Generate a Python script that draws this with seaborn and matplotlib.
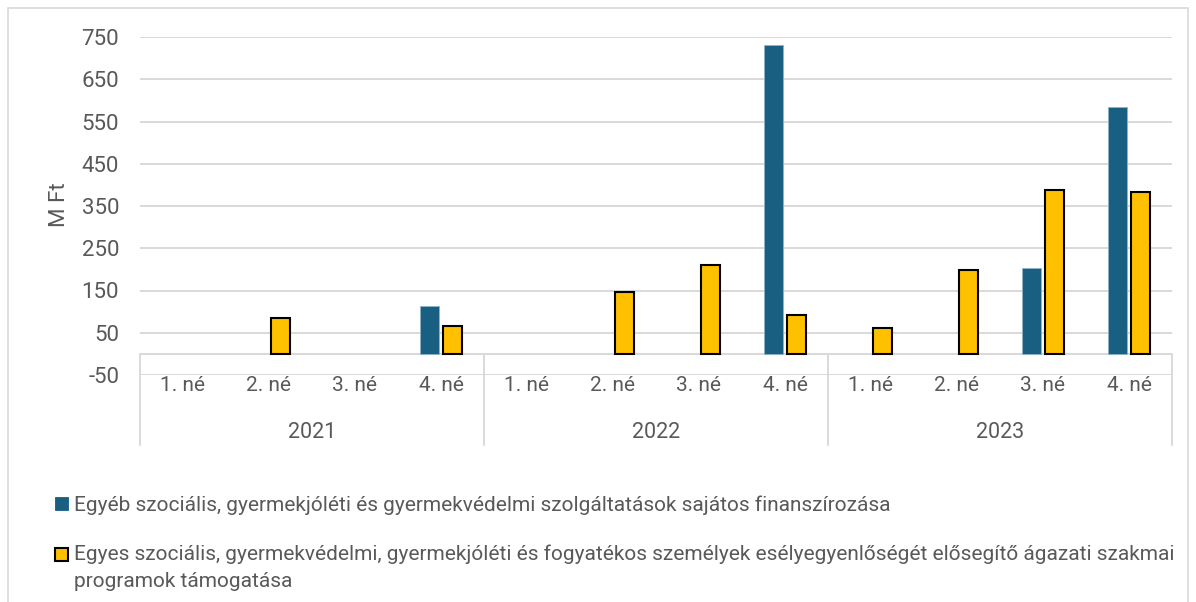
import numpy as np
import pandas as pd
import matplotlib
matplotlib.use("Agg")
import matplotlib.pyplot as plt
import matplotlib.transforms as mtrans
from matplotlib.patches import Patch, Rectangle
from matplotlib.legend_handler import HandlerPatch
import seaborn as sns

years = ["2021", "2022", "2023"]
quarters = ["1. né", "2. né", "3. né", "4. né"]
series_names = [
    "Egyéb szociális, gyermekjóléti és gyermekvédelmi szolgáltatások sajátos finanszírozása",
    "Egyes szociális, gyermekvédelmi, gyermekjóléti és fogyatékos személyek esélyegyenlőségét elősegítő ágazati szakmai\nprogramok támogatása",
]
blue_vals = [np.nan, np.nan, np.nan, 114, np.nan, np.nan, np.nan, 731, np.nan, np.nan, 204, 585]
yellow_vals = [np.nan, 85, np.nan, 66, np.nan, 147, 211, 92, 62, 199, 388, 383]
yticks = [-50, 50, 150, 250, 350, 450, 550, 650, 750]

slots = [f"{y} {q}" for y in years for q in quarters]
df = pd.DataFrame({
    "slot": slots * 2,
    "series": [series_names[0]] * 12 + [series_names[1]] * 12,
    "value": blue_vals + yellow_vals,
})

sns.set_theme(style="white")
plt.rcParams["font.family"] = ["Roboto", "DejaVu Sans"]
TXT = "#595959"
GRID = "#d9d9d9"
BLUE = "#185F82"
YEL = "#FFC000"

fig = plt.figure(figsize=(11.96, 6.02), dpi=100)
W, H = 1196, 602
ax = fig.add_axes([140 / W, 1 - 375 / H, (1172 - 140) / W, (375 - 37) / H])

sns.barplot(data=df, x="slot", y="value", hue="series", order=slots,
            hue_order=series_names, palette=[BLUE, YEL], width=0.55, gap=0.2,
            saturation=1, errorbar=None, legend=False, ax=ax, zorder=3)

for bar in ax.containers[0]:
    bar.set_edgecolor("#8fb3c8")
    bar.set_linewidth(0.6)
for bar in ax.containers[1]:
    bar.set_edgecolor("black")
    bar.set_linewidth(1.5)

ax.set_xlim(-0.5, 11.5)
ax.set_ylim(-50, 750)
ax.set_yticks(yticks)
ax.set_yticklabels([str(v) for v in yticks], color=TXT, fontsize=16)
ax.tick_params(axis="y", length=0, pad=15)
ax.yaxis.grid(True, color=GRID, linewidth=1.4, zorder=0)
ax.set_axisbelow(True)
for s in ax.spines.values():
    s.set_visible(False)
ax.axhline(0, color=GRID, linewidth=1.4, zorder=2)

ax.set_xticks(range(12))
ax.set_xticklabels(quarters * 3, color=TXT, fontsize=15)
ax.tick_params(axis="x", length=0, pad=1)
ax.set_xlabel("")
ax.set_ylabel("M Ft", color=TXT, fontsize=16)
ax.yaxis.set_label_coords((70 - 140) / 1032, (375 - 205) / 338)

trans = mtrans.blended_transform_factory(ax.transData, fig.transFigure)
for xs in [-0.5, 3.5, 7.5, 11.5]:
    ax.plot([xs, xs], [1 - 354 / H, 1 - 445 / H], color=GRID, linewidth=1.4,
            transform=trans, clip_on=False)
for i, y in enumerate(years):
    ax.text(i * 4 + 1.5, 1 - 432 / H, y, transform=trans, ha="center", va="center",
            color=TXT, fontsize=15.5)

# outer chart border
fig.patches.append(Rectangle((8 / W, -0.05), (1188 - 8) / W, 1.05 - 8 / H,
                             transform=fig.transFigure, fill=False,
                             edgecolor=GRID, linewidth=1.2))


def top_square(legend, orig_handle, xdescent, ydescent, width, height, fontsize):
    return Rectangle((-xdescent, -ydescent + 9.5), width, height)


handles = [Patch(facecolor=BLUE, edgecolor=BLUE, linewidth=0.6),
           Patch(facecolor=YEL, edgecolor="black", linewidth=1.5)]
leg = fig.legend(handles, series_names, loc="upper left",
                 bbox_to_anchor=(47 / W, 1 - 487 / H), frameon=False,
                 fontsize=15, labelcolor=TXT, handlelength=0.6, handleheight=0.6,
                 handletextpad=0.3, labelspacing=1.4, borderaxespad=0,
                 handler_map={handles[1]: HandlerPatch(patch_func=top_square)})
for t in leg.get_texts():
    t.set_linespacing(1.55)

fig.savefig("out.png", dpi=100)
